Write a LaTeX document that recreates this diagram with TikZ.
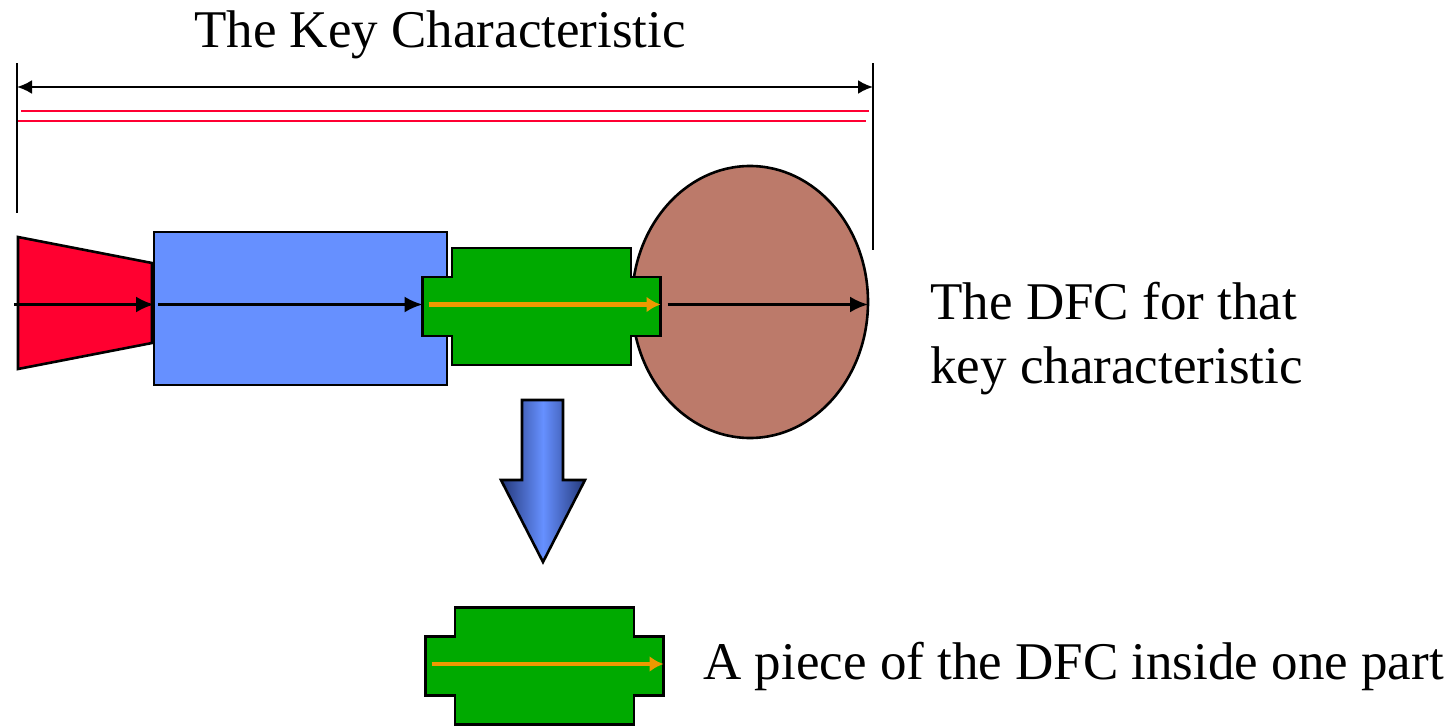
\documentclass[tikz,border=0pt]{standalone}
\usepackage{fontspec}
\setmainfont{Liberation Serif}
\usetikzlibrary{arrows.meta,shapes.geometric,positioning}
\definecolor{kcred}{HTML}{FF0033}
\definecolor{dfcred}{HTML}{FF0030}
\definecolor{dfcblue}{HTML}{6690FF}
\definecolor{dfcdark}{HTML}{24387A}
\definecolor{dfcgreen}{HTML}{00AA00}
\definecolor{dfcbrown}{HTML}{BC7A6A}
\definecolor{dfcorange}{HTML}{EE9900}
\tikzset{
  outline/.style={draw,line width=1.3pt},
  piece/.style={outline,fill=dfcgreen},
  flow/.style={-{Latex[length=7pt,width=8pt]},draw=dfcorange,line width=2.4pt},
  chain/.style={-{Latex[length=9pt,width=8pt]},line width=1.2pt},
  redline/.style={draw=kcred,line width=1.3pt},
  txt/.style={font=\fontsize{26.5}{32}\selectfont,inner sep=0pt},
  dfcpiece/.pic={
      \draw[piece]
      (-89.5,-58.5) -- (89.5,-58.5) -- (89.5,-29.5) -- (119,-29.5)
      -- (119,29.5) -- (89.5,29.5) -- (89.5,58.5) -- (-89.5,58.5)
      -- (-89.5,29.5) -- (-119,29.5) -- (-119,-29.5) -- (-89.5,-29.5) -- cycle;
      \coordinate (p-#1-w) at (-119,-2);
      \coordinate (p-#1-e) at (119,-2);
      \draw[flow] ([xshift=3pt]p-#1-w) -- (p-#1-e);
    }
}
\begin{document}
\begin{tikzpicture}[x=0.5pt,y=-0.5pt]
\useasboundingbox (0,0) rectangle (1452,728);
% the shapes
\draw[outline,fill=dfcred] (18,237) -- (152,263) -- (152,343) -- (18,369) -- cycle;
\node[outline,fill=dfcblue,minimum width=146.5pt,minimum height=76.5pt,
  inner sep=0pt,outer sep=0pt,anchor=north west] at (154,232) (blk) {};
\node[outline,fill=dfcbrown,ellipse,minimum width=118pt,minimum height=136pt,
  inner sep=0pt,outer sep=0pt] at (750,302) (ell) {};
\path
  (541.5,306.5) pic {dfcpiece=1}
  (544.5,666) pic {dfcpiece=2};
\shade[outline,left color=dfcdark,right color=dfcdark,middle color=dfcblue]
  (522,400) -- (563,400) -- (563,480) -- (585,480) -- (543,562)
  -- (501,480) -- (522,480) -- cycle;

% the key characteristic
\path
  (17,63) coordinate (kl-top)
  (17,213) coordinate (kl-bot)
  (873,63) coordinate (kr-top)
  (873,250) coordinate (kr-bot)
  (17,87) coordinate (kl)
  (873,87) coordinate (kr)
  (14,304.5) coordinate (in);
\draw[line width=1.2pt] (kl-top) -- (kl-bot);
\draw[line width=1.2pt] (kr-top) -- (kr-bot);
\draw[{Latex[length=7.5pt,width=7pt]}-{Latex[length=7.5pt,width=7pt]},line width=1.2pt] (kl) -- (kr);
\draw[redline] (21,111) -- (869,111);
\draw[redline] (18,121) -- (866,121);

%the arrows
\draw[chain] (in) -- (blk.west |- in);
\draw[chain] ([xshift=2pt]blk.west |- p-1-w) -- (p-1-w);
\draw[chain] ([xshift=3.5pt]p-1-e) -- (ell.east |- p-1-e);

% the texts
\node[txt,anchor=base] at (440,47) (title) {The Key Characteristic};
\node[txt,anchor=base west,align=left] at (930,383) (dfc)
  {The DFC for that\\key characteristic};
\node[txt,anchor=base west] at (703,679) (part)
  {A piece of the DFC inside one part};
\end{tikzpicture}
\end{document}
